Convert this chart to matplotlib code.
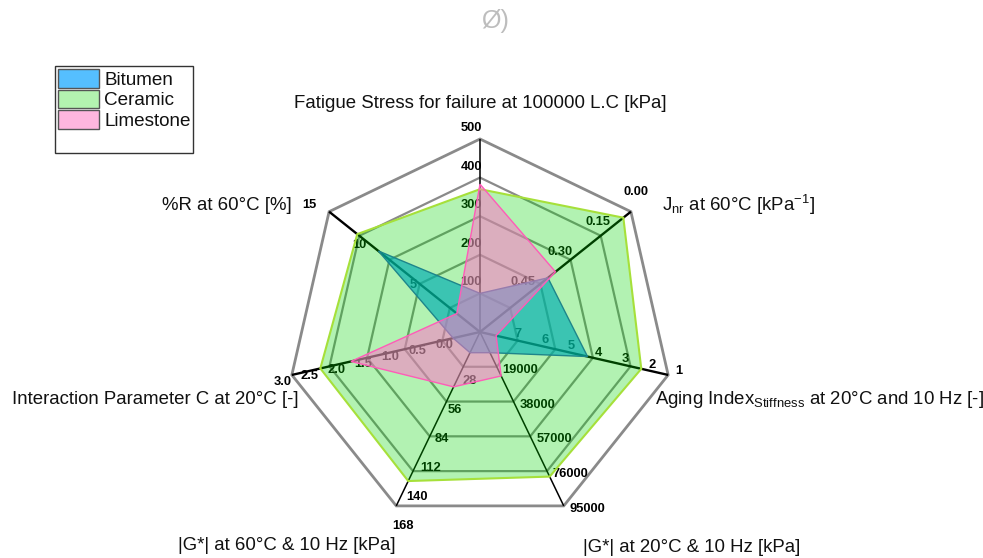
import numpy as np
import matplotlib
matplotlib.use("Agg")
import matplotlib.pyplot as plt
from matplotlib.patches import Polygon, Patch

plt.rcParams["font.family"] = ["Liberation Sans", "DejaVu Sans"]
plt.rcParams["mathtext.fontset"] = "custom"
plt.rcParams["mathtext.rm"] = "Liberation Sans"
plt.rcParams["mathtext.it"] = "Liberation Sans:italic"
plt.rcParams["mathtext.bf"] = "Liberation Sans:bold"

# ---- data -------------------------------------------------------------
axis_titles = [
    "Fatigue Stress for failure at 100000 L.C [kPa]",
    r"$\mathregular{J_{nr}}$ at 60°C [kPa$\mathregular{^{-1}}$]",
    r"Aging Index$\mathregular{_{Stiffness}}$ at 20°C and 10 Hz [-]",
    "|G*| at 20°C & 10 Hz [kPa]",
    "|G*| at 60°C & 10 Hz [kPa]",
    "Interaction Parameter C at 20°C [-]",
    "%R at 60°C [%]",
]
# value at the centre and at the outer ring of every spoke
axis_centre = [0, 0.60, 8, 0, 0, -0.5, 0]
axis_outer = [500, 0.00, 1, 95000, 168, 3.0, 15]
axis_ticks = [
    [100, 200, 300, 400, 500],
    [0.00, 0.15, 0.30, 0.45],
    [1, 2, 3, 4, 5, 6, 7],
    [19000, 38000, 57000, 76000, 95000],
    [28, 56, 84, 112, 140, 168],
    [0.0, 0.5, 1.0, 1.5, 2.0, 2.5, 3.0],
    [5, 10, 15],
]
tick_formats = ["{:.0f}", "{:.2f}", "{:.0f}", "{:.0f}", "{:.0f}", "{:.1f}", "{:.0f}"]

series_names = ["Bitumen", "Ceramic", "Limestone"]
bitumen = [100, 0.33, 4.0, 11300, 20, 0.0, 10.1]
ceramic = [370, 0.03, 2.0, 79000, 144, 2.47, 12.2]
limestone = [383, 0.30, 7.4, 24000, 53, 1.9, 2.3]

# ---- layout -----------------------------------------------------------
W, H = 983, 558
CX, CY, R = 480, 332, 193.0
N = len(axis_titles)

fig = plt.figure(figsize=(W / 100, H / 100), dpi=100)
ax = fig.add_axes([0, 0, 1, 1])
ax.set_xlim(0, W)
ax.set_ylim(H, 0)
ax.axis("off")


def spoke_point(k, frac):
    ang = np.deg2rad(90 - k * 360.0 / N)
    return CX + R * frac * np.cos(ang), CY - R * frac * np.sin(ang)


def to_frac(k, v):
    return (v - axis_centre[k]) / (axis_outer[k] - axis_centre[k])


# heptagon rings
for j in range(1, 6):
    pts = [spoke_point(k, j / 5) for k in range(N)]
    ring = Polygon(pts, closed=True, fill=False, edgecolor="#8a8a8a",
                   lw=2.0 if j == 5 else 1.6, zorder=1)
    ax.add_patch(ring)

# spokes (the ones with many ticks drawn a little heavier)
spoke_lw = [1.1, 1.7, 1.7, 1.1, 1.1, 1.7, 1.7]
for k in range(N):
    x1, y1 = spoke_point(k, 1)
    ax.plot([CX, x1], [CY, y1], color="black", lw=spoke_lw[k], zorder=1.5,
            solid_capstyle="butt")

# tick labels on each spoke (offset, alignment)
label_place = [
    (2, -11, "right"),
    (5, -20, "center"),
    (11, -4, "center"),
    (6, 3, "left"),
    (-4, 20, "left"),
    (0, 7, "right"),
    (-13, -7, "right"),
]
for k in range(N):
    dx, dy, ha = label_place[k]
    for t in axis_ticks[k]:
        x, y = spoke_point(k, to_frac(k, t))
        ax.text(x + dx, y + dy, tick_formats[k].format(t), ha=ha, va="center",
                fontsize=9.3, fontweight="bold", color="black", zorder=2)

# series polygons
fills = [
    ((0 / 255, 157 / 255, 1.0, 0.667), "#2a62c8", 1.0),
    ((0.0, 215 / 255, 0.0, 0.30), "#a6e03a", 1.5),
    ((1.0, 117 / 255, 202 / 255, 0.54), "#ff5cb8", 1.0),
]
for z, (vals, (fc, ec, lw)) in enumerate(zip([bitumen, ceramic, limestone], fills)):
    pts = [spoke_point(k, to_frac(k, v)) for k, v in enumerate(vals)]
    ax.add_patch(Polygon(pts, closed=True, facecolor=fc, edgecolor="none", zorder=3 + z))
    ax.add_patch(Polygon(pts, closed=True, fill=False, edgecolor=ec, lw=lw, zorder=3 + z))

# spoke titles
title_place = [
    (480, 103, "center"),
    (662, 205, "left"),
    (655, 400, "left"),
    (583, 547, "left"),
    (178, 545, "left"),
    (12, 400, "left"),
    (292, 205, "right"),
]
for (x, y, ha), txt in zip(title_place, axis_titles):
    ax.text(x, y, txt, ha=ha, va="center", fontsize=13.4, color="#111111")

# small mark at the top
ax.text(495, 21, "Ø)", ha="center", va="center", fontsize=18,
        color="#bdbdbd")

# legend (a blank last row leaves the empty strip at the bottom of the box)
legend_colors = ["#55bfff", "#b3f3b0", "#ffb6de"]
handles = [Patch(facecolor=c, edgecolor="#555555", lw=1.0) for c in legend_colors]
handles.append(Patch(facecolor="none", edgecolor="none"))
leg = ax.legend(handles, series_names + [""], loc="upper left",
                bbox_to_anchor=(55 / W, 1 - 66 / H), bbox_transform=fig.transFigure,
                fontsize=13.6, frameon=True, fancybox=False, edgecolor="black",
                borderaxespad=0, borderpad=0.15, handlelength=2.2, handleheight=1.15,
                handletextpad=0.25, labelspacing=0.05)
leg.get_frame().set_linewidth(1.0)
for t in leg.get_texts():
    t.set_color("#111111")
# make the blank row shorter
leg.get_texts()[-1].set_fontsize(5)

fig.savefig("out.png", dpi=100)
